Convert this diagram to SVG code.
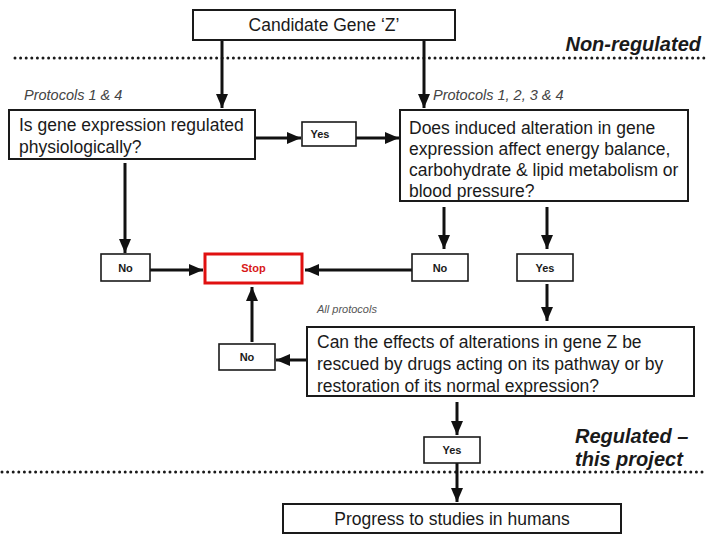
<svg xmlns="http://www.w3.org/2000/svg" width="708" height="536" viewBox="0 0 708 536">
<defs>
<style>
.box{fill:#fff;stroke:#1a1a1a;stroke-width:2}
.small{fill:#fff;stroke:#1a1a1a;stroke-width:1.6}
.stop{fill:#fff;stroke:#e01010;stroke-width:3}
.t{font-family:"Liberation Sans",Arial,sans-serif;font-size:17.5px;fill:#1a1a1a}
.lbl{font-family:"Liberation Sans",Arial,sans-serif;font-size:11px;font-weight:bold;fill:#1a1a1a;text-anchor:middle}
.prot{font-family:"Liberation Sans",Arial,sans-serif;font-size:14.5px;font-style:italic;fill:#444}
.zone{font-family:"Liberation Sans",Arial,sans-serif;font-size:20px;font-style:italic;font-weight:bold;fill:#1a1a1a}
.dots{stroke:#1a1a1a;stroke-width:3;stroke-linecap:round;stroke-dasharray:0 5.6;fill:none}
.c{stroke:#111;stroke-width:3;fill:none;marker-end:url(#ah)}
</style>
<marker id="ah" viewBox="0 0 14 12" refX="14" refY="6" markerWidth="14" markerHeight="12" markerUnits="userSpaceOnUse" orient="auto">
<path d="M0 0 L14 6 L0 12 Z" fill="#111"/>
</marker>
</defs>
<rect width="708" height="536" fill="#fff"/>

<line class="dots" x1="15" y1="58" x2="706" y2="58"/>
<line class="dots" x1="2" y1="472" x2="702" y2="472"/>
<text class="zone" x="701" y="51" text-anchor="end">Non-regulated</text>
<text class="zone" x="575" y="443">Regulated –</text>
<text class="zone" x="575" y="466">this project</text>

<text class="prot" x="24" y="100">Protocols 1 &amp; 4</text>
<text class="prot" x="433" y="100">Protocols 1, 2, 3 &amp; 4</text>
<text class="prot" x="317" y="313" style="font-size:11px;fill:#555">All protocols</text>

<g id="connectors">
<path class="c" d="M222 40 V108"/>
<path class="c" d="M424 40 V108"/>
<path class="c" d="M255 138 H301"/>
<path class="c" d="M356 138 H399"/>
<path class="c" d="M125 163 V253"/>
<path class="c" d="M150 270 H203"/>
<path class="c" d="M444 207 V249"/>
<path class="c" d="M547 207 V249"/>
<path class="c" d="M412 270 H305"/>
<path class="c" d="M547 284 V321"/>
<path class="c" d="M307 360 H276"/>
<path class="c" d="M252 342 V287"/>
<path class="c" d="M457 402 V435"/>
<path class="c" d="M457 463 V502"/>
</g>

<g id="candidate">
<rect class="box" x="193" y="10" width="262" height="30"/>
<text class="t" x="324" y="31" text-anchor="middle">Candidate Gene ‘Z’</text>
</g>

<g id="q1">
<rect class="box" x="9" y="110" width="246" height="49"/>
<text class="t" x="19" y="131">Is gene expression regulated</text>
<text class="t" x="19" y="153">physiologically?</text>
</g>

<g id="yes1">
<rect class="small" x="302" y="122" width="54" height="24"/>
<text class="lbl" x="320" y="138">Yes</text>
</g>

<g id="q2">
<rect class="box" x="400" y="110" width="288" height="91"/>
<text class="t" x="409" y="134">Does induced alteration in gene</text>
<text class="t" x="409" y="155">expression affect energy balance,</text>
<text class="t" x="409" y="176">carbohydrate &amp; lipid metabolism or</text>
<text class="t" x="409" y="197">blood pressure?</text>
</g>

<g id="no1">
<rect class="small" x="101" y="254" width="49" height="27"/>
<text class="lbl" x="125.5" y="272">No</text>
</g>

<g id="stop">
<rect class="stop" x="205" y="254" width="97" height="29"/>
<text class="lbl" x="253.5" y="272" style="fill:#d81818">Stop</text>
</g>

<g id="no2">
<rect class="small" x="412" y="254" width="56" height="27"/>
<text class="lbl" x="440" y="272">No</text>
</g>

<g id="yes2">
<rect class="small" x="517" y="254" width="56" height="27"/>
<text class="lbl" x="545" y="272">Yes</text>
</g>

<g id="q3">
<rect class="box" x="307" y="327" width="387" height="69"/>
<text class="t" x="317" y="348">Can the effects of alterations in gene Z be</text>
<text class="t" x="317" y="370">rescued by drugs acting on its pathway  or by</text>
<text class="t" x="317" y="392">restoration of its normal expression?</text>
</g>

<g id="no3">
<rect class="small" x="219" y="344" width="56" height="26"/>
<text class="lbl" x="247" y="361">No</text>
</g>

<g id="yes3">
<rect class="small" x="424" y="437" width="56" height="26"/>
<text class="lbl" x="452" y="454">Yes</text>
</g>

<g id="progress">
<rect class="box" x="283" y="504" width="338" height="29"/>
<text class="t" x="452" y="525" text-anchor="middle">Progress to studies in humans</text>
</g>
</svg>
